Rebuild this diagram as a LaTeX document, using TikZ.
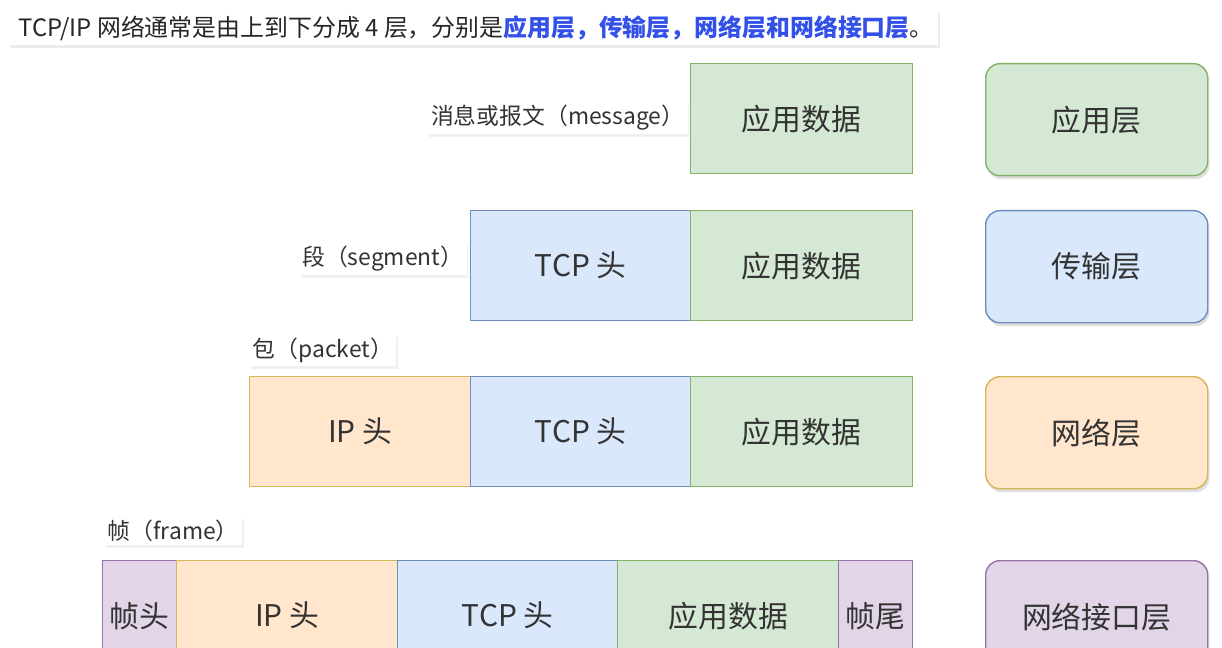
\documentclass[tikz,border=0pt]{standalone}
\usepackage{fontspec}
\setmainfont{Noto Sans CJK SC}
\usetikzlibrary{shadows}
\definecolor{gF}{HTML}{D5E8D4}\definecolor{gD}{HTML}{82B366}
\definecolor{bF}{HTML}{DAE8FC}\definecolor{bD}{HTML}{6C8EBF}
\definecolor{oF}{HTML}{FFE6CC}\definecolor{oD}{HTML}{D6B656}
\definecolor{pF}{HTML}{E1D5E7}\definecolor{pD}{HTML}{9673A6}
\definecolor{hb}{HTML}{3350E8}
\tikzset{
 cell/.style={draw, line width=0.8pt, font=\fontsize{17}{20}\selectfont, text=black!80},
 layer/.style={draw, line width=0.8pt, rounded corners=8pt, font=\fontsize{17}{20}\selectfont, text=black!80, drop shadow={opacity=0.25, shadow xshift=1pt, shadow yshift=-2pt}},
 lab/.style={fill=white, inner sep=2pt, font=\fontsize{13}{16}\selectfont, text=black!80, drop shadow={opacity=0.12, shadow xshift=1pt, shadow yshift=-1.5pt}},
}
\begin{document}
\begin{tikzpicture}[x=0.02cm,y=-0.02cm]
\useasboundingbox (0,0) rectangle (1222,648);
\clip (0,0) rectangle (1222,648);
\node[fill=white, minimum width=930*0.02cm, minimum height=35*0.02cm, anchor=north west, inner sep=0pt, drop shadow={opacity=0.15, shadow xshift=1pt, shadow yshift=-1.5pt}] (cap) at (8,10) {};
\node[anchor=west, inner sep=0pt, font=\fontsize{13.6}{16}\selectfont, text=black!85] (capt) at (18,28) {TCP/IP 网络通常是由上到下分成 4 层，分别是\textcolor{hb}{\textbf{应用层，传输层，网络层和网络接口层}}。};
% row 1
\node[cell, fill=gF, draw=gD, minimum width=222*0.02cm, minimum height=110*0.02cm, anchor=north west] (a1) at (690,63) {应用数据};
\node[layer, fill=gF, draw=gD, minimum width=222*0.02cm, minimum height=112*0.02cm, anchor=north west] (l1) at (985,63) {应用层};
\node[lab, anchor=east] (m1) at (688,118) {消息或报文（message）};
% row 2
\node[cell, fill=bF, draw=bD, minimum width=220*0.02cm, minimum height=110*0.02cm, anchor=north west] (t2) at (470,210) {TCP 头};
\node[cell, fill=gF, draw=gD, minimum width=222*0.02cm, minimum height=110*0.02cm, anchor=north west] (a2) at (690,210) {应用数据};
\node[layer, fill=bF, draw=bD, minimum width=222*0.02cm, minimum height=112*0.02cm, anchor=north west] (l2) at (985,210) {传输层};
\node[lab, anchor=east] (m2) at (467,259) {段（segment）};
% row 3
\node[cell, fill=oF, draw=oD, minimum width=221*0.02cm, minimum height=110*0.02cm, anchor=north west] (i3) at (249,376) {IP 头};
\node[cell, fill=bF, draw=bD, minimum width=220*0.02cm, minimum height=110*0.02cm, anchor=north west] (t3) at (470,376) {TCP 头};
\node[cell, fill=gF, draw=gD, minimum width=222*0.02cm, minimum height=110*0.02cm, anchor=north west] (a3) at (690,376) {应用数据};
\node[layer, fill=oF, draw=oD, minimum width=222*0.02cm, minimum height=112*0.02cm, anchor=north west] (l3) at (985,376) {网络层};
\node[lab, anchor=west] (m3) at (249,350) {包（packet）};
% row 4
\node[cell, fill=pF, draw=pD, minimum width=74*0.02cm, minimum height=110*0.02cm, anchor=north west, inner sep=0pt] (h4) at (102,560) {帧头};
\node[cell, fill=oF, draw=oD, minimum width=221*0.02cm, minimum height=110*0.02cm, anchor=north west] (i4) at (176,560) {IP 头};
\node[cell, fill=bF, draw=bD, minimum width=220*0.02cm, minimum height=110*0.02cm, anchor=north west] (t4) at (397,560) {TCP 头};
\node[cell, fill=gF, draw=gD, minimum width=221*0.02cm, minimum height=110*0.02cm, anchor=north west] (a4) at (617,560) {应用数据};
\node[cell, fill=pF, draw=pD, minimum width=74*0.02cm, minimum height=110*0.02cm, anchor=north west, inner sep=0pt] (e4) at (838,560) {帧尾};
\node[layer, fill=pF, draw=pD, minimum width=222*0.02cm, minimum height=112*0.02cm, anchor=north west] (l4) at (985,560) {网络接口层};
\node[lab, anchor=west] (m4) at (104,531) {帧（frame）};
\end{tikzpicture}
\end{document}
